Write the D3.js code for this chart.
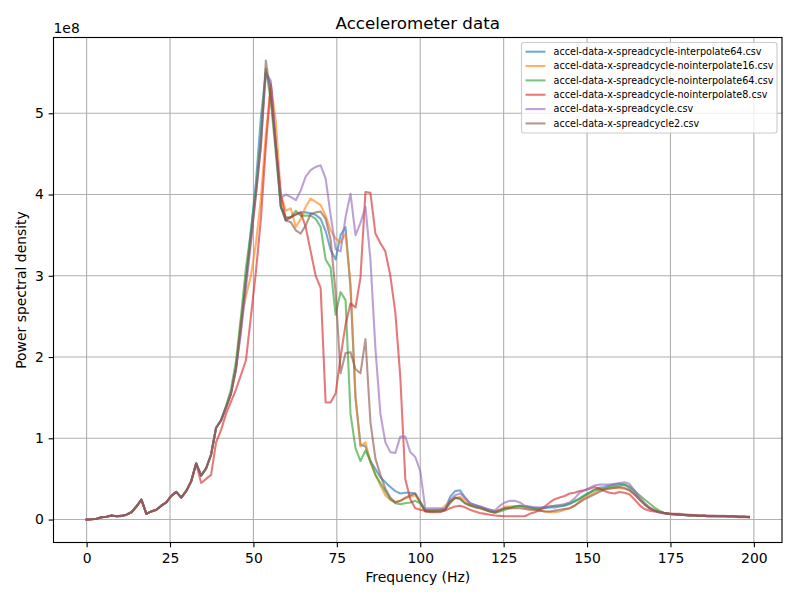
<!DOCTYPE html>
<html lang="en">
<head>
<meta charset="UTF-8">
<title>Accelerometer data</title>
<script src="https://cdn.jsdelivr.net/npm/d3@7"></script>
<style>
  body { margin: 0; background: #fff; }
  svg { font-family: "DejaVu Sans", sans-serif; }
</style>
</head>
<body>
<div id="chart"></div>
<script>
// frequency bins (Hz)
const freqs = [0, 1.49, 2.99, 4.48, 5.97, 7.46, 8.96, 10.45, 11.94, 13.43, 14.93, 16.42, 17.91, 19.40, 20.90, 22.39,
  23.88, 25.37, 26.87, 28.36, 29.85, 31.34, 32.84, 34.33, 35.82, 37.31, 38.81, 40.30, 41.79, 43.28, 44.78, 46.27,
  47.76, 49.25, 50.75, 52.24, 53.73, 55.22, 56.72, 58.21, 59.70, 61.19, 62.69, 64.18, 65.67, 67.16, 68.66, 70.15,
  71.64, 73.13, 74.63, 76.12, 77.61, 79.10, 80.60, 82.09, 83.58, 85.07, 86.57, 88.06, 89.55, 91.04, 92.54, 94.03,
  95.52, 97.01, 98.51, 100.00, 101.49, 102.99, 104.48, 105.97, 107.46, 108.96, 110.45, 111.94, 113.43, 114.93,
  116.42, 117.91, 119.40, 120.90, 122.39, 123.88, 125.37, 126.87, 128.36, 129.85, 131.34, 132.84, 134.33, 135.82,
  137.31, 138.81, 140.30, 141.79, 143.28, 144.78, 146.27, 147.76, 149.25, 150.75, 152.24, 153.73, 155.22, 156.72,
  158.21, 159.70, 161.19, 162.69, 164.18, 165.67, 167.16, 168.66, 170.15, 171.64, 173.13, 174.63, 176.12, 177.61,
  179.10, 180.60, 182.09, 183.58, 185.07, 186.57, 188.06, 189.55, 191.04, 192.54, 194.03, 195.52, 197.01, 198.51];

// power spectral density, in units of 1e8
const interpolate64 = [0, 0.003, 0.01, 0.028, 0.035, 0.049, 0.04, 0.045, 0.06, 0.09, 0.16, 0.245, 0.07, 0.1, 0.12, 0.17, 0.21, 0.29, 0.34, 0.27, 0.35, 0.47, 0.69, 0.54, 0.63, 0.8, 1.13,
  1.22, 1.38, 1.55, 1.85, 2.35, 2.95, 3.55, 4.15, 4.95, 5.5, 5.35, 4.6, 3.85,
  3.68, 3.72, 3.75, 3.78, 3.78, 3.77, 3.75, 3.7, 3.55, 3.32, 3.2, 3.5, 3.6, 2.85, 1.5, 0.92, 0.9,
  0.72, 0.62, 0.52, 0.46, 0.4, 0.35, 0.32, 0.33, 0.33, 0.32, 0.22, 0.12, 0.12, 0.12, 0.12, 0.13,
  0.28, 0.35, 0.36, 0.27, 0.2, 0.18, 0.16, 0.14, 0.12, 0.1, 0.12, 0.14, 0.15, 0.16, 0.17, 0.16,
  0.15, 0.14, 0.13, 0.14, 0.15, 0.15, 0.16, 0.17, 0.19, 0.22, 0.25, 0.29, 0.33, 0.37, 0.39, 0.4,
  0.42, 0.43, 0.44, 0.43, 0.39, 0.33, 0.25, 0.19, 0.14, 0.11, 0.09, 0.08, 0.07, 0.065, 0.06, 0.055,
  0.05, 0.05, 0.045, 0.045, 0.04, 0.04, 0.04, 0.04, 0.04, 0.04, 0.035, 0.035, 0.03];

const nointerpolate16 = [0, 0.003, 0.01, 0.028, 0.035, 0.049, 0.04, 0.045, 0.06, 0.09, 0.16, 0.245, 0.07, 0.1, 0.12, 0.17, 0.21, 0.29, 0.34, 0.27, 0.35, 0.47, 0.69, 0.54, 0.63, 0.8, 1.13,
  1.22, 1.38, 1.55, 1.85, 2.45, 2.75, 3.0, 3.4, 3.95, 4.75, 5.35, 4.9, 4.0,
  3.8, 3.83, 3.6, 3.7, 3.85, 3.95, 3.91, 3.87, 3.74, 3.56, 3.46, 3.41, 3.52, 2.9, 1.5, 0.9, 0.95,
  0.7, 0.55, 0.42, 0.3, 0.24, 0.22, 0.23, 0.26, 0.28, 0.3, 0.21, 0.1, 0.1, 0.1, 0.12, 0.17,
  0.22, 0.26, 0.28, 0.24, 0.18, 0.16, 0.14, 0.12, 0.1, 0.09, 0.12, 0.16, 0.16, 0.16, 0.16, 0.15,
  0.13, 0.12, 0.11, 0.1, 0.09, 0.09, 0.1, 0.12, 0.14, 0.17, 0.22, 0.27, 0.3, 0.33, 0.36, 0.38,
  0.39, 0.39, 0.39, 0.38, 0.36, 0.31, 0.25, 0.19, 0.15, 0.12, 0.1, 0.08, 0.07, 0.065, 0.06, 0.055,
  0.05, 0.05, 0.045, 0.045, 0.04, 0.04, 0.04, 0.04, 0.04, 0.04, 0.035, 0.035, 0.03];

const nointerpolate64 = [0, 0.003, 0.01, 0.028, 0.035, 0.049, 0.04, 0.045, 0.06, 0.09, 0.16, 0.245, 0.07, 0.1, 0.12, 0.17, 0.21, 0.29, 0.34, 0.27, 0.35, 0.47, 0.69, 0.54, 0.63, 0.8, 1.13,
  1.22, 1.4, 1.6, 1.95, 2.5, 3.1, 3.55, 4.05, 4.7, 5.55, 5.15, 4.5, 3.85,
  3.72, 3.72, 3.8, 3.74, 3.74, 3.74, 3.7, 3.6, 3.2, 3.1, 2.52, 2.8, 2.7, 1.3, 0.88, 0.72, 0.85,
  0.72, 0.55, 0.45, 0.35, 0.25, 0.2, 0.19, 0.2, 0.21, 0.23, 0.2, 0.11, 0.11, 0.11, 0.11, 0.12,
  0.2, 0.27, 0.25, 0.2, 0.18, 0.16, 0.15, 0.12, 0.1, 0.08, 0.1, 0.12, 0.14, 0.16, 0.17, 0.16,
  0.15, 0.14, 0.14, 0.15, 0.16, 0.17, 0.17, 0.18, 0.2, 0.23, 0.26, 0.3, 0.33, 0.36, 0.37, 0.38,
  0.4, 0.41, 0.42, 0.43, 0.41, 0.36, 0.3, 0.25, 0.2, 0.15, 0.11, 0.08, 0.07, 0.065, 0.06, 0.055,
  0.05, 0.05, 0.045, 0.045, 0.04, 0.04, 0.04, 0.04, 0.04, 0.04, 0.035, 0.035, 0.03];

const nointerpolate8 = [0, 0.003, 0.01, 0.028, 0.035, 0.049, 0.04, 0.045, 0.06, 0.09, 0.16, 0.245, 0.07, 0.1, 0.12, 0.17, 0.21, 0.29, 0.34, 0.27, 0.35, 0.47, 0.69, 0.45, 0.5, 0.55, 0.95,
  1.1, 1.3, 1.45, 1.6, 1.78, 1.96, 2.5, 3.05, 3.7, 4.6, 5.35, 4.6, 4.0,
  3.7, 3.72, 3.76, 3.78, 3.6, 3.3, 3.0, 2.85, 1.44, 1.44, 1.55, 2.0, 2.4, 2.66, 2.61, 2.98, 4.03,
  4.02, 3.52, 3.4, 3.3, 3.0, 2.55, 1.75, 0.5, 0.25, 0.14, 0.12, 0.11, 0.1, 0.1, 0.1, 0.11,
  0.14, 0.16, 0.17, 0.15, 0.12, 0.1, 0.08, 0.07, 0.06, 0.05, 0.045, 0.04, 0.04, 0.04, 0.04, 0.04,
  0.07, 0.09, 0.12, 0.16, 0.21, 0.25, 0.27, 0.29, 0.32, 0.33, 0.35, 0.36, 0.38, 0.4, 0.38, 0.35,
  0.33, 0.32, 0.34, 0.33, 0.31, 0.25, 0.18, 0.13, 0.11, 0.1, 0.09, 0.08, 0.075, 0.07, 0.07, 0.065,
  0.06, 0.055, 0.05, 0.05, 0.045, 0.045, 0.04, 0.04, 0.035, 0.035, 0.03, 0.03, 0.03];

const spreadcycle = [0, 0.003, 0.01, 0.028, 0.035, 0.049, 0.04, 0.045, 0.06, 0.09, 0.16, 0.245, 0.07, 0.1, 0.12, 0.17, 0.21, 0.29, 0.34, 0.27, 0.35, 0.47, 0.69, 0.54, 0.63, 0.8, 1.13,
  1.22, 1.38, 1.55, 1.85, 2.3, 2.85, 3.4, 4.0, 4.6, 5.5, 5.4, 4.6, 3.96,
  4.0, 3.97, 3.93, 4.05, 4.22, 4.3, 4.34, 4.36, 4.2, 3.75, 3.33, 3.3, 3.72, 4.01, 3.5, 3.65, 3.85,
  3.2, 2.1, 1.3, 0.95, 0.83, 0.82, 1.02, 1.02, 0.83, 0.77, 0.6, 0.14, 0.14, 0.14, 0.14, 0.13,
  0.24, 0.3, 0.32, 0.27, 0.2, 0.18, 0.16, 0.14, 0.12, 0.11, 0.17, 0.21, 0.23, 0.23, 0.21, 0.17,
  0.16, 0.15, 0.15, 0.15, 0.16, 0.17, 0.18, 0.19, 0.21, 0.26, 0.33, 0.36, 0.39, 0.42, 0.43, 0.43,
  0.43, 0.44, 0.45, 0.46, 0.44, 0.36, 0.28, 0.21, 0.15, 0.11, 0.09, 0.07, 0.07, 0.06, 0.06, 0.055,
  0.05, 0.05, 0.05, 0.05, 0.045, 0.045, 0.045, 0.045, 0.04, 0.04, 0.04, 0.04, 0.04];

const spreadcycle2 = [0, 0.003, 0.01, 0.028, 0.035, 0.049, 0.04, 0.045, 0.06, 0.09, 0.16, 0.245, 0.07, 0.1, 0.12, 0.17, 0.21, 0.29, 0.34, 0.27, 0.35, 0.47, 0.69, 0.54, 0.63, 0.8, 1.13,
  1.22, 1.38, 1.55, 1.88, 2.4, 2.95, 3.45, 4.0, 4.6, 5.65, 5.2, 4.6, 3.85,
  3.68, 3.66, 3.56, 3.52, 3.62, 3.76, 3.78, 3.79, 3.7, 3.45, 2.8, 1.8, 2.05, 2.06, 1.85, 1.8, 2.22,
  1.2, 0.75, 0.55, 0.38, 0.27, 0.21, 0.23, 0.27, 0.3, 0.32, 0.21, 0.1, 0.09, 0.09, 0.09, 0.12,
  0.22, 0.27, 0.26, 0.2, 0.17, 0.15, 0.14, 0.12, 0.1, 0.09, 0.11, 0.14, 0.14, 0.14, 0.14, 0.13,
  0.12, 0.12, 0.11, 0.1, 0.1, 0.11, 0.12, 0.13, 0.14, 0.17, 0.21, 0.25, 0.28, 0.31, 0.34, 0.37,
  0.38, 0.39, 0.4, 0.39, 0.36, 0.31, 0.25, 0.19, 0.14, 0.11, 0.09, 0.08, 0.07, 0.065, 0.06, 0.055,
  0.05, 0.05, 0.045, 0.045, 0.04, 0.04, 0.04, 0.04, 0.04, 0.04, 0.035, 0.035, 0.03];

const seriesNames = [
  "accel-data-x-spreadcycle-interpolate64.csv",
  "accel-data-x-spreadcycle-nointerpolate16.csv",
  "accel-data-x-spreadcycle-nointerpolate64.csv",
  "accel-data-x-spreadcycle-nointerpolate8.csv",
  "accel-data-x-spreadcycle.csv",
  "accel-data-x-spreadcycle2.csv"
];
const seriesValues = [interpolate64, nointerpolate16, nointerpolate64, nointerpolate8, spreadcycle, spreadcycle2];
const xTicks = [0, 25, 50, 75, 100, 125, 150, 175, 200];
const yTicks = [0, 1, 2, 3, 4, 5];

const colors = ["#1f77b4", "#ff7f0e", "#2ca02c", "#d62728", "#9467bd", "#8c564b"];
const width = 800, height = 600;
const box = { left: 53.5, right: 782, top: 37.5, bottom: 542.5 };
const pt = 100 / 72;

const svg = d3.select("#chart").append("svg")
  .attr("width", width).attr("height", height);

const series = seriesNames.map((name, i) => ({
  name,
  color: colors[i],
  points: freqs.map((f, k) => ({ f, v: seriesValues[i][k] }))
}));

// matplotlib-like 5% margins
const xExt = d3.extent(freqs);
const yExt = [d3.min(seriesValues.flat()), d3.max(seriesValues.flat())];
const xPad = (xExt[1] - xExt[0]) * 0.05, yPad = (yExt[1] - yExt[0]) * 0.05;

const x = d3.scaleLinear().domain([xExt[0] - xPad, xExt[1] + xPad]).range([box.left, box.right]);
const y = d3.scaleLinear().domain([yExt[0] - yPad, yExt[1] + yPad]).range([box.bottom, box.top]);

// grid
svg.append("g").selectAll("line").data(xTicks).join("line")
  .attr("x1", d => x(d)).attr("x2", d => x(d))
  .attr("y1", box.top).attr("y2", box.bottom)
  .attr("stroke", "#b0b0b0").attr("stroke-width", 0.8 * pt);
svg.append("g").selectAll("line").data(yTicks).join("line")
  .attr("x1", box.left).attr("x2", box.right)
  .attr("y1", d => y(d)).attr("y2", d => y(d))
  .attr("stroke", "#b0b0b0").attr("stroke-width", 0.8 * pt);

// lines
const line = d3.line().x(d => x(d.f)).y(d => y(d.v));
const plot = svg.append("g");
series.forEach(s => {
  plot.append("path")
    .datum(s.points)
    .attr("d", line)
    .attr("fill", "none")
    .attr("stroke", s.color)
    .attr("stroke-opacity", 0.62)
    .attr("stroke-width", 1.5 * pt)
    .attr("stroke-linejoin", "round")
    .attr("stroke-linecap", "square");
});

// axes
const xAxis = d3.axisBottom(x).tickValues(xTicks).tickSize(3.5 * pt).tickPadding(3.5 * pt).tickFormat(d3.format("d"));
const yAxis = d3.axisLeft(y).tickValues(yTicks).tickSize(3.5 * pt).tickPadding(3.5 * pt).tickFormat(d3.format("d"));

const gx = svg.append("g").attr("transform", `translate(0,${box.bottom})`).call(xAxis);
const gy = svg.append("g").attr("transform", `translate(${box.left},0)`).call(yAxis);
[gx, gy].forEach(g => {
  g.select(".domain").remove();
  g.selectAll(".tick line").attr("stroke", "#000").attr("stroke-width", 0.8 * pt);
  g.selectAll(".tick text").attr("fill", "#000").attr("font-size", 13.9).attr("font-family", "DejaVu Sans");
});
gx.selectAll(".tick text").attr("dy", "0.76em");

// frame
svg.append("rect")
  .attr("x", box.left).attr("y", box.top)
  .attr("width", box.right - box.left).attr("height", box.bottom - box.top)
  .attr("fill", "none").attr("stroke", "#000").attr("stroke-width", 0.8 * pt);

// texts
svg.append("text")
  .attr("x", (box.left + box.right) / 2).attr("y", 29)
  .attr("text-anchor", "middle").attr("font-size", 16.7)
  .text("Accelerometer data");

svg.append("text")
  .attr("x", (box.left + box.right) / 2).attr("y", 582)
  .attr("text-anchor", "middle").attr("font-size", 13.9)
  .text("Frequency (Hz)");

svg.append("text")
  .attr("transform", `translate(26,${(box.top + box.bottom) / 2}) rotate(-90)`)
  .attr("text-anchor", "middle").attr("font-size", 13.9)
  .text("Power spectral density");

svg.append("text")
  .attr("x", box.left).attr("y", 33)
  .attr("font-size", 13.9)
  .text("1e8");

// legend
const lg = { left: 521.5, top: 42.5, w: 255.5, h: 90.5, row: 14.35 };
const legend = svg.append("g");
legend.append("rect")
  .attr("x", lg.left).attr("y", lg.top).attr("width", lg.w).attr("height", lg.h)
  .attr("rx", 2.5).attr("fill", "#fff").attr("fill-opacity", 0.8)
  .attr("stroke", "#cccccc").attr("stroke-width", 0.8 * pt);

const items = legend.selectAll(".item").data(series).join("g")
  .attr("class", "item")
  .attr("transform", (d, i) => `translate(${lg.left},${lg.top + 9.2 + i * lg.row})`);

items.append("line")
  .attr("x1", 4).attr("x2", 24)
  .attr("stroke", d => d.color).attr("stroke-opacity", 0.62)
  .attr("stroke-width", 1.5 * pt);

items.append("text")
  .attr("x", 32).attr("dy", "0.35em")
  .attr("font-size", 9.64)
  .text(d => d.name);
</script>
</body>
</html>
